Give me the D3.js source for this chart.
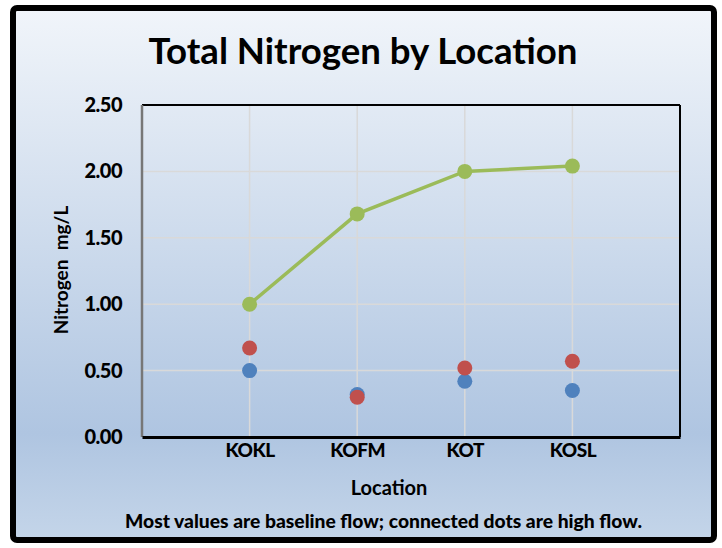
<!DOCTYPE html>
<html><head><meta charset="utf-8">
<script src="https://cdn.jsdelivr.net/npm/d3@7"></script>
<style>html,body{margin:0;padding:0;background:#fff;}svg{display:block;font-family:Lato,"Open Sans",sans-serif;}</style>
</head><body>
<svg id="c" width="722" height="548"></svg>
<script>
const categories = ["KOKL","KOFM","KOT","KOSL"];
const highFlow = [1.00, 1.68, 2.00, 2.04];
const baselineRed = [0.67, 0.30, 0.52, 0.57];
const baselineBlue = [0.50, 0.32, 0.42, 0.35];
const yTicks = [0, 0.5, 1.0, 1.5, 2.0, 2.5];

const svg = d3.select("#c");
const defs = svg.append("defs");
const g = defs.append("linearGradient").attr("id","bg").attr("x1",0).attr("y1",0).attr("x2",0).attr("y2",1);
g.append("stop").attr("offset","0%").attr("stop-color","#f1f5fa");
g.append("stop").attr("offset","80%").attr("stop-color","#afc5e1");
g.append("stop").attr("offset","100%").attr("stop-color","#c4d5e9");

svg.append("rect").attr("x",13).attr("y",8).attr("width",701).attr("height",532)
  .attr("rx",4).attr("fill","url(#bg)").attr("stroke","#000").attr("stroke-width",6);

const L=142,R=680,T=105,B=437;
const x = d3.scaleLinear().domain([0,5]).range([L,R]);
const y = d3.scaleLinear().domain([0,2.5]).range([B,T]);

// gridlines
svg.append("g").selectAll("line.h").data(yTicks.slice(1)).join("line")
  .attr("x1",L).attr("x2",R).attr("y1",d=>y(d)).attr("y2",d=>y(d))
  .attr("stroke","#d9d9d9").attr("stroke-width",1.5);
svg.append("g").selectAll("line.v").data(categories).join("line")
  .attr("x1",(d,i)=>x(i+1)).attr("x2",(d,i)=>x(i+1)).attr("y1",T).attr("y2",B)
  .attr("stroke","#d9d9d9").attr("stroke-width",1.5);

// frame
svg.append("line").attr("x1",L).attr("x2",R).attr("y1",T).attr("y2",T).attr("stroke","#000").attr("stroke-width",2);
svg.append("line").attr("x1",R).attr("x2",R).attr("y1",T).attr("y2",B).attr("stroke","#000").attr("stroke-width",2);
svg.append("line").attr("x1",L).attr("x2",L).attr("y1",T).attr("y2",B).attr("stroke","#777").attr("stroke-width",2.5);

// y axis
const ya = d3.axisLeft(y).tickValues(yTicks).tickFormat(d3.format(".2f")).tickSize(0).tickPadding(20);
const yg = svg.append("g").attr("transform",`translate(${L},0)`).call(ya);
yg.select(".domain").remove();
yg.selectAll("text").attr("font-size",20).attr("font-weight",900).attr("fill","#000").attr("font-family","Lato").attr("letter-spacing",-0.5);

// x axis
const xa = d3.axisBottom(x).tickValues([1,2,3,4]).tickFormat(d=>categories[d-1]).tickSize(0).tickPadding(7);
const xg = svg.append("g").attr("transform",`translate(0,${B})`).call(xa);
xg.select(".domain").attr("stroke","#000").attr("stroke-width",3);
xg.selectAll("text").attr("font-size",19).attr("font-weight",900).attr("fill","#000").attr("font-family","Lato").attr("letter-spacing",-0.5);

// line
svg.append("path").datum(highFlow)
  .attr("d", d3.line().x((d,i)=>x(i+1)).y(d=>y(d)))
  .attr("fill","none").attr("stroke","#9bbb59").attr("stroke-width",3.5);

function dots(data,color){
  svg.append("g").selectAll("circle").data(data).join("circle")
    .attr("cx",(d,i)=>x(i+1)).attr("cy",d=>y(d)).attr("r",7.5).attr("fill",color);
}
dots(baselineBlue,"#4f81bd");
dots(baselineRed,"#c0504d");
dots(highFlow,"#9bbb59");

// titles
svg.append("text").attr("x",363).attr("y",64).attr("text-anchor","middle")
  .attr("font-size",37).attr("font-weight",700).attr("textLength",429).attr("lengthAdjust","spacingAndGlyphs")
  .text("Total Nitrogen by Location");
svg.append("text").attr("transform","translate(68,270) rotate(-90)").attr("text-anchor","middle")
  .attr("font-size",19).attr("font-weight",700).attr("xml:space","preserve").text("Nitrogen  mg/L");
svg.append("text").attr("x",389).attr("y",495).attr("text-anchor","middle")
  .attr("font-size",20).attr("font-weight",700).text("Location");
svg.append("text").attr("x",125).attr("y",528)
  .attr("font-size",18).attr("font-weight",900).attr("textLength",517).attr("lengthAdjust","spacingAndGlyphs")
  .text("Most values are baseline flow; connected dots are high flow.");
</script>
</body></html>
